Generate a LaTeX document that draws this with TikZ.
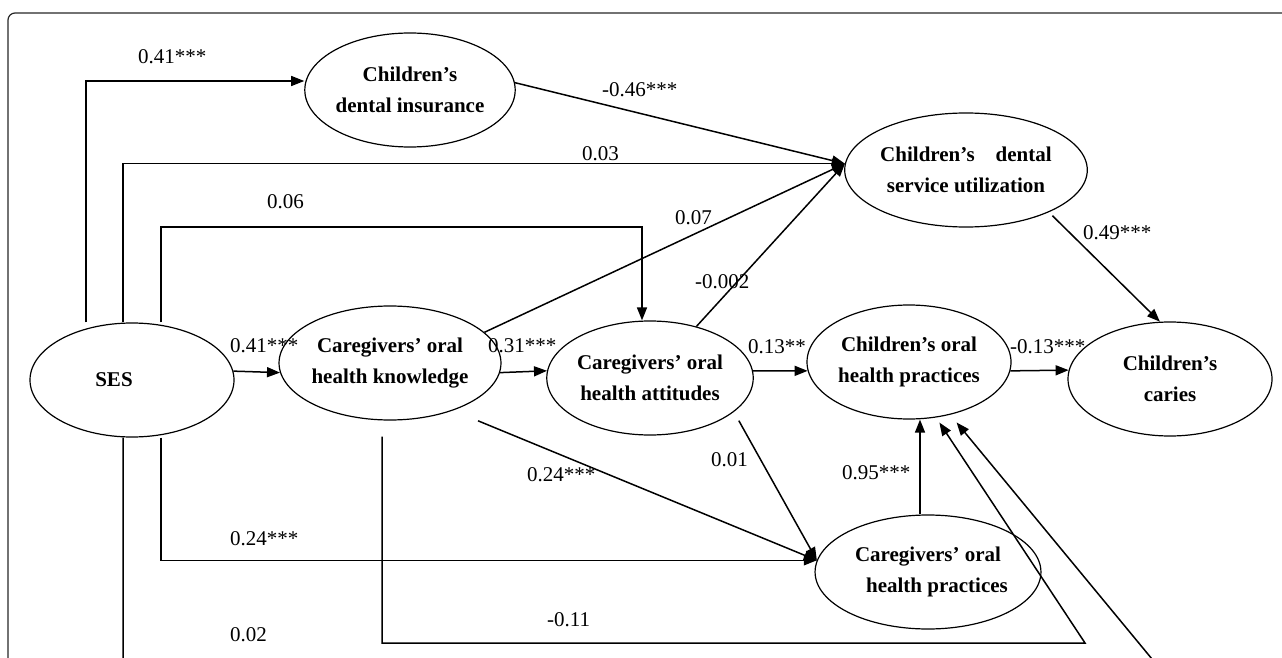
\documentclass[tikz,border=0pt]{standalone}
\usepackage{fontspec}
\setmainfont{Liberation Serif}
\usetikzlibrary{arrows.meta,shapes.geometric,calc}
\begin{document}
\begin{tikzpicture}[x=1pt,y=-1pt,
  ell/.style={draw, ellipse, line width=1.2pt, minimum width=204pt, minimum height=114pt,
    inner sep=0pt, align=center, font=\fontsize{21}{31}\selectfont\bfseries},
  arr/.style={line width=1.5pt, -{Triangle[length=13pt,width=10pt]}},
  lab/.style={anchor=west, inner sep=0pt, font=\fontsize{21}{21}\selectfont}]
\useasboundingbox (0,0) rectangle (1282,658);
\clip (0,0) rectangle (1282,658);
\draw[line width=1.2pt, rounded corners=7pt, black!85] (8,13) rectangle (1330,720);

% nodes
\node[ell] (ses)  at (132,380) {SES\rule{36pt}{0pt}};
\node[ell] (know) at (390,363) {Caregivers’ oral\\health knowledge};
\node[ell] (att)  at (650,378) {Caregivers’ oral\\health attitudes};
\node[ell] (cp)   at (909,362) {Children’s oral\\health practices};
\node[ell] (cc)   at (1170,379) {Children’s\\caries};
\node[ell] (di)   at (410,90)  {Children’s\\dental insurance};
\node[ell] (dsu)  at (966,170) {Children’s\hspace{0.75em} dental\\service utilization};
\node[ell] (cop)  at (928,572) {Caregivers’ oral\\\rule{18pt}{0pt}health practices};

\coordinate (c02) at (1177.6,690);

% connectors
\draw[arr] (ses.north -| 86,0) |- (di.west |- 0,81);
\draw[arr] (ses.north -| 123,0) |- (dsu.177);
\draw[arr] (ses.north -| 161,0) -- (161,227) -| (att.north -| 642,0);
\draw[arr] (ses.5) -- (know.185);
\draw[arr] (know.-5) -- (att.176);
\draw[arr] (att.4) -- (cp.185);
\draw[arr] (cp.-5) -- (cc.175);
\draw[arr] (di.4) -- (dsu.177);
\draw[arr] (know.18) -- (dsu.177);
\draw[arr] (att.48) -- (dsu.177);
\draw[arr, shorten <=27pt] (know.-37) -- (cop.174);
\draw[arr, shorten <=10pt] (att.-22) -- (cop.174);
\draw[arr] (ses.south -| 161,0) |- (cop.174);
\draw[arr] (cop.north -| 920,0) -- (cp.south -| 920,0);
\draw[arr, shorten <=5pt] (dsu.-27) -- (cc.100);
\draw[arr, shorten <=16pt, shorten >=6pt] (know.south -| 382,0) -- (382,643) -- (1085,643) -- (cp.-64);
\draw[arr, shorten >=10pt] (ses.south -| 123,0) -- (123,690) -- (c02) -- (cp.-52);

% labels
\node[lab] (l1)  at (138,57)  {0.41***};
\node[lab] (l2)  at (582,154) {0.03};
\node[lab] (l3)  at (267,202) {0.06};
\node[lab] (l4)  at (602,90)  {-0.46***};
\node[lab] (l5)  at (675,218) {0.07};
\node[lab] (l6)  at (695,282) {-0.002};
\node[lab] (l7)  at (1083,233) {0.49***};
\node[lab] (l8)  at (230,346) {0.41***};
\node[lab] (l9)  at (488,346) {0.31***};
\node[lab] (l10) at (748,347) {0.13**};
\node[lab] (l11) at (1010,347) {-0.13***};
\node[lab] (l12) at (527,475) {0.24***};
\node[lab] (l13) at (711,460) {0.01};
\node[lab] (l14) at (842,473) {0.95***};
\node[lab] (l15) at (230,539) {0.24***};
\node[lab] (l16) at (547,620) {-0.11};
\node[lab] (l17) at (230,635) {0.02};
\end{tikzpicture}
\end{document}
